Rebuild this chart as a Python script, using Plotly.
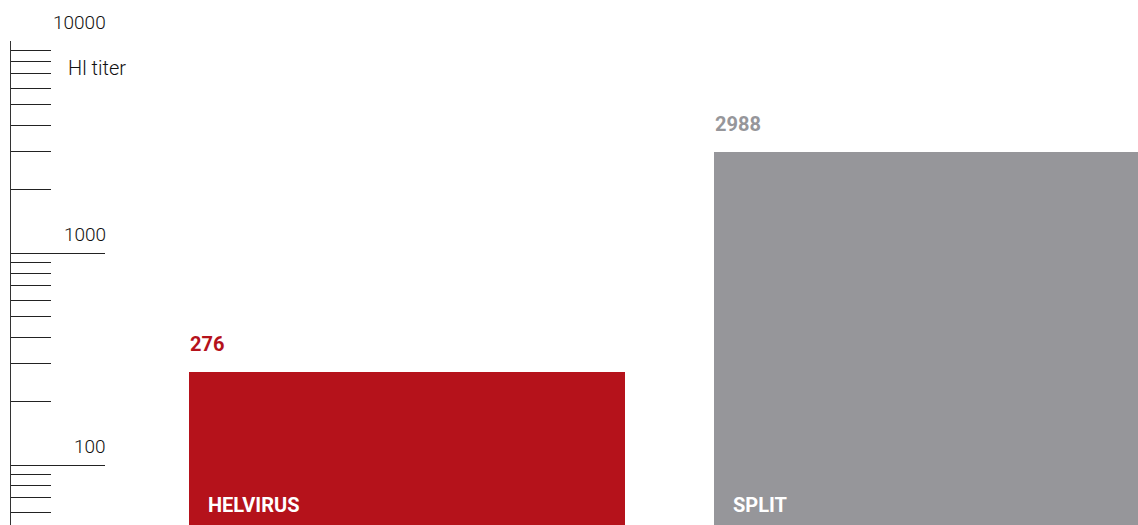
import math
import plotly.graph_objects as go

categories = ["HELVIRUS", "SPLIT"]
values = [276, 2988]
colors = ["#B5121B", "#96969A"]
label_colors = ["#B5121B", "#96969A"]
tick_vals = [100, 1000, 10000]
tick_text = ["100", "1000", "10000"]
axis_title = "Hl titer"

bar_width = 0.83
xs = list(range(len(categories)))

fig = go.Figure()
fig.add_trace(go.Bar(x=xs, y=values, width=bar_width, marker=dict(color=colors, line=dict(width=0)),
                     hoverinfo="skip", showlegend=False))

annotations = []
for i, (cat, val) in enumerate(zip(categories, values)):
    left = i - bar_width / 2
    # value above the bar (log axis -> annotation y in log units)
    annotations.append(dict(x=left, y=math.log10(val), xref="x", yref="y", text=f"<b>{val}</b>",
                            showarrow=False, xanchor="left", yanchor="middle", xshift=-1, yshift=28,
                            font=dict(family="Roboto", size=20, color=label_colors[i])))
    # category name inside the bar, at the bottom
    annotations.append(dict(x=left, y=0, xref="x", yref="paper", text=f"<b>{cat}</b>",
                            showarrow=False, xanchor="left", yanchor="middle", xshift=17, yshift=20,
                            font=dict(family="Roboto", size=20, color="white")))

for v, t in zip(tick_vals, tick_text):
    annotations.append(dict(x=0, y=math.log10(v), xref="paper", yref="y", text=t, showarrow=False,
                            xanchor="right", yanchor="bottom", xshift=97, yshift=5,
                            font=dict(family="Roboto", size=19, color="#111111", weight=300)))

annotations.append(dict(x=0, y=1, xref="paper", yref="paper", text=axis_title, showarrow=False,
                        xanchor="left", yanchor="middle", xshift=55, yshift=-27,
                        font=dict(family="Roboto", size=20, color="#111111", weight=300)))

fig.update_layout(
    width=1138, height=525,
    margin=dict(l=11, r=0, t=41, b=0),
    plot_bgcolor="white", paper_bgcolor="white",
    bargap=0,
    annotations=annotations,
    xaxis=dict(range=[-0.754, 1.392], visible=False, fixedrange=True),
    yaxis=dict(type="log", range=[1.717, 4], showgrid=False, zeroline=False,
               showline=True, linecolor="#333333", linewidth=1,
               tickvals=tick_vals, ticks="inside", ticklen=94, tickcolor="#222222", tickwidth=1,
               showticklabels=False,
               minor=dict(ticks="inside", ticklen=40, tickcolor="#222222", tickwidth=1,
                          dtick="D1", showgrid=False)),
)

fig.write_html("out.html", config={"displayModeBar": False},
               post_script="document.body.style.margin='0';document.body.style.overflow='hidden';")
